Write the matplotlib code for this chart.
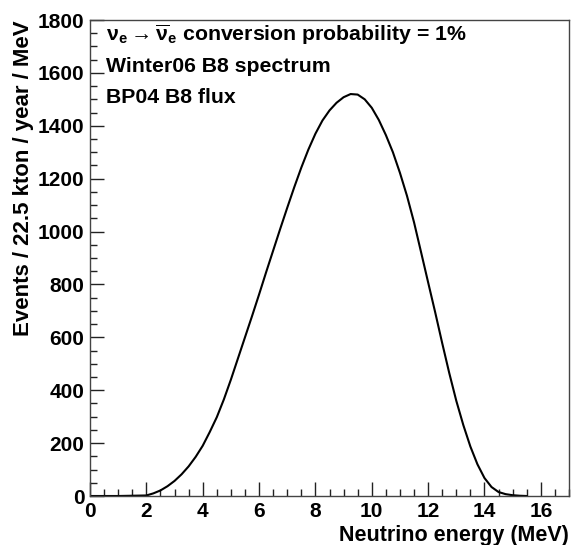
import numpy as np
import matplotlib
matplotlib.use("Agg")
import matplotlib.pyplot as plt
from matplotlib.ticker import MultipleLocator

plt.rcParams['font.family'] = ['Liberation Sans', 'DejaVu Sans']
plt.rcParams['font.weight'] = 'bold'
plt.rcParams['mathtext.fontset'] = 'custom'
plt.rcParams['mathtext.rm'] = 'Liberation Sans'
plt.rcParams['mathtext.it'] = 'Liberation Sans'
plt.rcParams['mathtext.bf'] = 'Liberation Sans:bold'

# Antineutrino event spectrum (events / 22.5 kton / year / MeV)
energy_mev = [0.0, 1.0, 2.0, 2.25, 2.5, 2.75, 3.0, 3.25, 3.5, 3.75, 4.0, 4.25,
              4.5, 4.75, 5.0, 5.25, 5.5, 5.75, 6.0, 6.25, 6.5, 6.75, 7.0, 7.25,
              7.5, 7.75, 8.0, 8.25, 8.5, 8.75, 9.0, 9.25, 9.5, 9.75, 10.0,
              10.25, 10.5, 10.75, 11.0, 11.25, 11.5, 11.75, 12.0, 12.25, 12.5,
              12.75, 13.0, 13.25, 13.5, 13.75, 14.0, 14.25, 14.5, 14.75, 15.0,
              15.25, 15.5]
events = [0, 0, 2, 10, 21, 37, 57, 82, 112, 148, 190, 242,
          298, 365, 440, 520, 600, 680, 762, 846, 928, 1010, 1090, 1168,
          1242, 1310, 1370, 1420, 1458, 1487, 1508, 1520, 1518, 1500, 1468,
          1422, 1365, 1300, 1222, 1135, 1035, 922, 808, 695, 578,
          465, 360, 268, 187, 120, 68, 34, 15, 7, 3,
          1, 0]

info_lines = [r'$\mathrm{\nu}_{\mathbf{e}} \rightarrow \overline{\mathrm{\nu}}_{\mathbf{e}}$ conversion probability = 1%',
              'Winter06 B8 spectrum',
              'BP04 B8 flux']

fig = plt.figure(figsize=(5.71, 5.45), dpi=100)
ax = fig.add_axes([90 / 571, 1 - 496 / 545, (569 - 90) / 571, (496 - 20) / 545])

ax.plot(energy_mev, events, color='black', lw=1.5, solid_joinstyle='round')

ax.set_xlim(0, 17)
ax.set_ylim(0, 1800)
ax.xaxis.set_major_locator(MultipleLocator(2))
ax.xaxis.set_minor_locator(MultipleLocator(0.5))
ax.yaxis.set_major_locator(MultipleLocator(200))
ax.yaxis.set_minor_locator(MultipleLocator(50))

for s in ax.spines.values():
    s.set_color('#444444')
    s.set_linewidth(1.0)

ax.tick_params(which='both', direction='in', top=False, right=False,
               color='#222222', width=1.0)
ax.tick_params(which='major', length=10, labelsize=15, pad=4)
ax.tick_params(which='minor', length=5)
for lab in ax.get_xticklabels() + ax.get_yticklabels():
    lab.set_fontweight('bold')

ax.set_xlabel('Neutrino energy (MeV)', fontsize=15.5, fontweight='bold',
              loc='right', labelpad=3)
ax.set_ylabel('Events / 22.5 kton / year / MeV', fontsize=16, fontweight='bold',
              loc='top', labelpad=3)

# info block, one line per row, vertically centred
info_y = [0.968, 0.903, 0.838]
for y, line in zip(info_y, info_lines):
    ax.text(0.033, y, line, transform=ax.transAxes,
            fontsize=15.3, fontweight='bold', ha='left', va='center')

fig.savefig('out.png', dpi=100)
